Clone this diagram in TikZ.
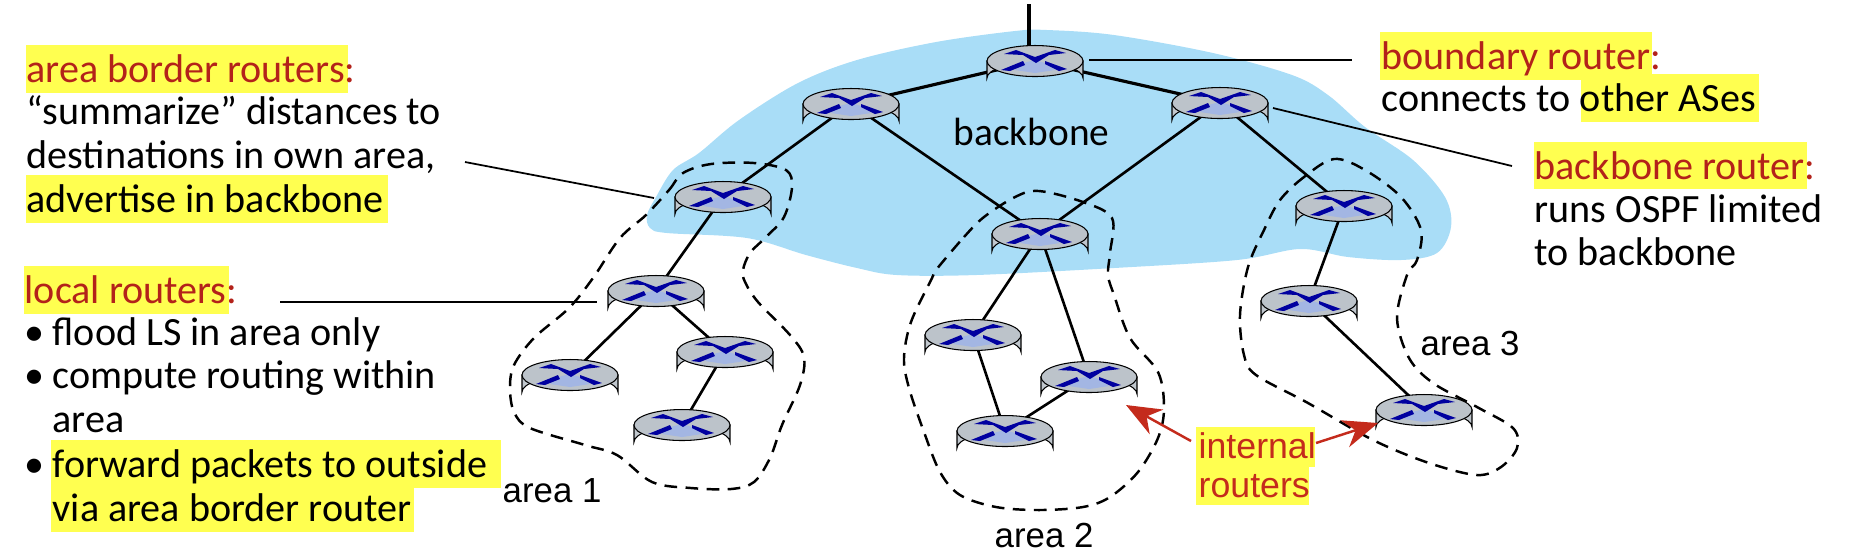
\documentclass[tikz,border=0pt]{standalone}
\usepackage{xcolor}
\usepackage{fontspec}
\setmainfont{Carlito}
\newfontfamily\arialfont{Liberation Sans}
\usetikzlibrary{positioning,arrows.meta}
\definecolor{blobblue}{HTML}{A9DDF7}
\definecolor{hlyellow}{HTML}{FFFF50}
\definecolor{darkred}{HTML}{B3221A}
\definecolor{arrowred}{HTML}{C42B1C}
\definecolor{routergray}{HTML}{BCC3CA}
\definecolor{crossblue}{HTML}{0000A0}
\definecolor{crosslight}{HTML}{A3B6E3}
\pgfdeclarehorizontalshading{routerbody}{100bp}{color(0bp)=(routergray); color(25bp)=(routergray); color(38bp)=(white); color(75bp)=(routergray); color(100bp)=(routergray)}
\newcommand{\red}[1]{{\color{darkred}#1}}
\tikzset{
routerpt/.style={inner sep=0pt, minimum size=0pt},
link/.style={line width=0.75pt, black},
pointer/.style={line width=0.5pt, black},
redarrow/.style={line width=0.7pt, arrowred, -{Stealth[length=11pt*0.9, width=8pt]}},
arealine/.style={line width=0.7pt, black, dash pattern=on 3.6pt off 2.4pt},
hlbox/.style={fill=hlyellow},
txt/.style={anchor=base west, inner sep=0pt, font=\fontsize{11.4}{13}\selectfont},
sanstxt/.style={anchor=base west, inner sep=0pt, font=\arialfont\fontsize{9.9}{12}\selectfont},
pics/routericon/.style={code={
  \path[shading=routerbody, draw=black, line width=0.3pt] (-48,0) -- (-48,17) arc[start angle=180, end angle=360, x radius=48, y radius=15.5] -- (48,0) -- cycle;
  \draw[fill=routergray, line width=0.3pt] (0,0) ellipse[x radius=48, y radius=15.5];
  \fill[crosslight] (-12,2) -- (0,-1) -- (10,2) -- (20,9) -- (0,12) -- (-20,9) -- cycle;
  \fill[crossblue] (-31,-7) -- (-19,-11) -- (0,-4) -- (20,-11) -- (31,-8) -- (14,-6) -- (1,2) -- (-12,-6) -- cycle;
  \fill[crossblue] (-34,9) -- (-12,0) -- (-10,4) -- (-25,10) -- cycle;
  \fill[crossblue] (10,0) -- (32,8) -- (24,10) -- (10,3) -- cycle;
}}
}

\begin{document}
\begin{tikzpicture}[x=0.01cm, y=-0.01cm]
  \useasboundingbox (0,0) rectangle (1870,550);
  % backbone cloud
  \fill[blobblue] plot[smooth cycle, tension=0.55] coordinates {(647,215) (656,197) (673,170) (699,153) (739,120) (798,83) (857,60) (936,42) (1015,31) (1047,30) (1114,35) (1213,53) (1292,75) (1328,95) (1365,127) (1413,160) (1445,197) (1451,227) (1437,253) (1401,260) (1348,257) (1300,249) (1237,260) (1114,268) (976,275) (897,275) (857,268) (806,255) (747,238) (667,233) (650,228)};
  % routers
  \node[routerpt] (bbtop) at (1035,61) {};
  \node[routerpt] (bbleft) at (851,104) {};
  \node[routerpt] (bbright) at (1220,103) {};
  \node[routerpt] (aone) at (723,197) {};
  \node[routerpt] (atwo) at (1040,234) {};
  \node[routerpt] (athree) at (1344,206) {};
  \node[routerpt] (loneA) at (656,291) {};
  \node[routerpt] (loneB) at (725,352) {};
  \node[routerpt] (loneC) at (682,425) {};
  \node[routerpt] (loneD) at (570,375) {};
  \node[routerpt] (ltwoA) at (973,335) {};
  \node[routerpt] (ltwoB) at (1089,377) {};
  \node[routerpt] (ltwoC) at (1005,431) {};
  \node[routerpt] (lthreeA) at (1309,301) {};
  \node[routerpt] (lthreeB) at (1424,410) {};
  \coordinate (uplink) at (1029,4);
  % links
  \draw[link, line width=0.9pt] (uplink) -- (uplink |- bbtop);
  \draw[link, line width=0.9pt] (bbleft) -- (bbtop) -- (bbright);
  \foreach \a/\b in {bbleft/aone, bbleft/atwo, bbright/atwo, bbright/athree, aone/loneA, loneA/loneB, loneA/loneD, loneB/loneC, atwo/ltwoA, atwo/ltwoB, ltwoA/ltwoC, ltwoB/ltwoC, athree/lthreeA, lthreeA/lthreeB}
    \draw[link] (\a) -- (\b);
  % areas
  \draw[arealine] plot[smooth cycle, tension=0.55] coordinates {(646,215) (669,190) (683,173) (711,164) (754,163) (786,170) (792,187) (784,217) (766,237) (750,253) (743,270) (745,282) (758,302) (790,335) (804,357) (800,385) (782,425) (770,458) (754,482) (731,489) (691,488) (652,482) (617,455) (585,445) (530,428) (514,412) (510,388) (514,365) (534,338) (569,308) (593,278) (620,238)};
  \draw[arealine] plot[smooth cycle, tension=0.55] coordinates {(936,270) (964,237) (984,217) (1015,197) (1039,191) (1083,202) (1112,218) (1110,253) (1108,275) (1114,295) (1130,338) (1158,372) (1164,408) (1158,438) (1138,472) (1110,497) (1083,507) (1039,510) (996,507) (960,495) (940,472) (924,432) (909,388) (904,358) (911,322) (932,278)};
  \draw[arealine] plot[smooth cycle, tension=0.55] coordinates {(1334,159) (1304,177) (1280,200) (1264,230) (1248,267) (1240,315) (1244,355) (1256,375) (1308,403) (1373,440) (1429,463) (1477,475) (1501,467) (1517,448) (1513,428) (1477,407) (1433,383) (1409,358) (1397,318) (1407,275) (1417,260) (1421,230) (1401,197) (1365,170)};
  \foreach \r in {bbtop, bbleft, bbright, aone, atwo, athree, loneA, loneB, loneC, loneD, ltwoA, ltwoB, ltwoC, lthreeA, lthreeB}
    \pic at (\r) {routericon};
  % highlights
  \fill[hlbox] (26,45) rectangle (348,93);
  \fill[hlbox] (26,175) rectangle (388,223);
  \fill[hlbox] (24,266) rectangle (229,314);
  \fill[hlbox] (51,440) rectangle (501,488);
  \fill[hlbox] (51,488) rectangle (414,532);
  \fill[hlbox] (1380,32) rectangle (1652,80);
  \fill[hlbox] (1581,74) rectangle (1759,122);
  \fill[hlbox] (1534,142) rectangle (1807,189);
  \fill[hlbox] (1196,427) rectangle (1315,467);
  \fill[hlbox] (1196,467) rectangle (1309,505);
  % left text
  \node[txt] (abrhead) at (26,82) {\red{area border routers:}};
  \node[txt] (abrone) at (26,124) {“summarize” distances to};
  \node[txt] (abrtwo) at (26,168) {destinations in own area,};
  \node[txt] (abrthree) at (26,212) {advertise in backbone};
  \node[txt] (lochead) at (24,303) {\red{local routers:}};
  \node[txt] (bulone) at (24,345) {•};
  \node[txt] (locone) at (52,345) {flood LS in area only};
  \node[txt] (bultwo) at (24,388) {•};
  \node[txt] (loctwo) at (52,388) {compute routing within};
  \node[txt] (locthree) at (52,432) {area};
  \node[txt] (bulthree) at (24,477) {•};
  \node[txt] (locfour) at (52,477) {forward packets to outside};
  \node[txt] (locfive) at (52,521) {via area border router};
  % right text
  \node[txt] (bndhead) at (1381,69) {\red{boundary router:}};
  \node[txt] (bndone) at (1381,111) {connects to other ASes};
  \node[txt] (bbrhead) at (1534,179) {\red{backbone router:}};
  \node[txt] (bbrone) at (1534,222) {runs OSPF limited};
  \node[txt] (bbrtwo) at (1534,265) {to backbone};
  \node[txt, font=\fontsize{11.2}{13}\selectfont] (bblabel) at (953,145) {backbone};
  % area labels
  \node[sanstxt] (areaone) at (502,502) {area 1};
  \node[sanstxt] (areatwo) at (994,547) {area 2};
  \node[sanstxt] (areathree) at (1420,355) {area 3};
  \node[sanstxt, text=arrowred, font=\arialfont\fontsize{10.15}{12}\selectfont] (intone) at (1198,458) {internal};
  \node[sanstxt, text=arrowred, font=\arialfont\fontsize{10.15}{12}\selectfont] (inttwo) at (1198,497) {routers};
  % pointers
  \coordinate (pabrA) at (465,162);
  \coordinate (pabrB) at (654,198);
  \coordinate (plocA) at (280,302);
  \coordinate (plocB) at (597,302);
  \coordinate (pbndA) at (1089,60);
  \coordinate (pbndB) at (1352,60);
  \coordinate (pbbrA) at (1273,108);
  \coordinate (pbbrB) at (1512,166);
  \coordinate (intA) at (1191,441);
  \coordinate (tipA) at (1126,405);
  \coordinate (intB) at (1316,443);
  \coordinate (tipB) at (1378,423);
  \draw[pointer] (pabrA) -- (pabrB);
  \draw[pointer] (plocA) -- (plocB);
  \draw[pointer] (pbndA) -- (pbndB);
  \draw[pointer] (pbbrA) -- (pbbrB);
  \draw[redarrow] (intA) -- (tipA);
  \draw[redarrow] (intB) -- (tipB);
\end{tikzpicture}
\end{document}
